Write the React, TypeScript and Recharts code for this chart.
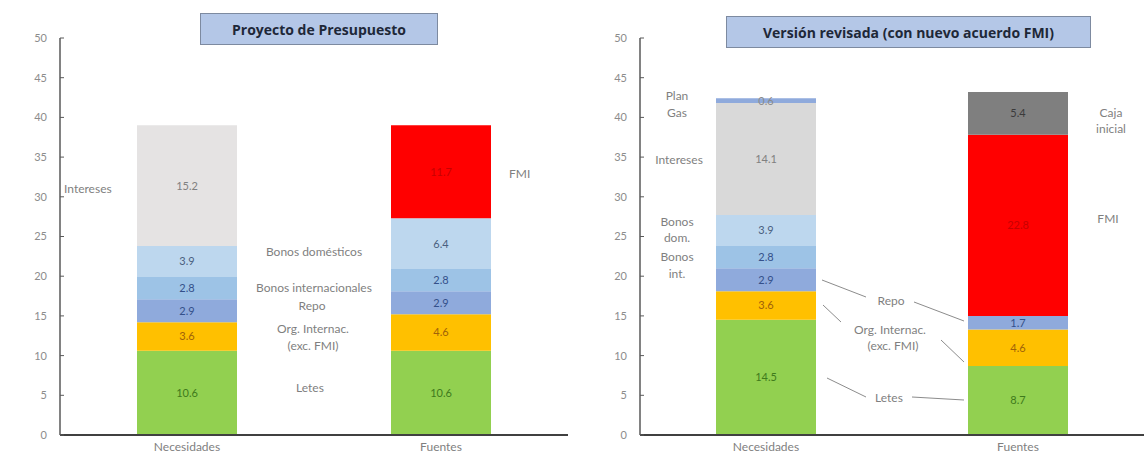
import { Bar, BarChart, LabelList, XAxis, YAxis } from 'recharts';

const categories = ['Necesidades', 'Fuentes'];
const yTicks = [0, 5, 10, 15, 20, 25, 30, 35, 40, 45, 50];

// Proyecto de Presupuesto (US$ bn)
const proyLetes = [10.6, 10.6];
const proyOrg = [3.6, 4.6];
const proyRepo = [2.9, 2.9];
const proyBonosInt = [2.8, 2.8];
const proyBonosDom = [3.9, 6.4];
const proyIntereses = [15.2, 0];
const proyFmi = [0, 11.7];
const proyTotals = ['38.9', '38.9'];

// Versión revisada (con nuevo acuerdo FMI)
const revLetes = [14.5, 8.7];
const revOrg = [3.6, 4.6];
const revRepo = [2.9, 1.7];
const revBonosInt = [2.8, 0];
const revBonosDom = [3.9, 0];
const revIntereses = [14.1, 0];
const revFmi = [0, 22.8];
const revPlanGas = [0.6, 0];
const revCaja = [0, 5.4];
const revTotals = ['42.4', '43.2'];

const FONT = 'Lato, "Open Sans", sans-serif';
const GRAY = '#7f7f7f';

type Series = { key: string; values: number[]; color: string; text: string };

const proySeries: Series[] = [
  { key: 'letes', values: proyLetes, color: '#92d050', text: '#3f7a1c' },
  { key: 'org', values: proyOrg, color: '#ffc000', text: '#a0620a' },
  { key: 'repo', values: proyRepo, color: '#8faadc', text: '#34508a' },
  { key: 'bonosInt', values: proyBonosInt, color: '#9dc3e6', text: '#34508a' },
  { key: 'bonosDom', values: proyBonosDom, color: '#bdd7ee', text: '#4a5f80' },
  { key: 'intereses', values: proyIntereses, color: '#e5e3e3', text: '#808080' },
  { key: 'fmi', values: proyFmi, color: '#ff0000', text: '#c80000' },
];

const revSeries: Series[] = [
  { key: 'letes', values: revLetes, color: '#92d050', text: '#3f7a1c' },
  { key: 'org', values: revOrg, color: '#ffc000', text: '#a0620a' },
  { key: 'repo', values: revRepo, color: '#8faadc', text: '#34508a' },
  { key: 'bonosInt', values: revBonosInt, color: '#9dc3e6', text: '#34508a' },
  { key: 'bonosDom', values: revBonosDom, color: '#bdd7ee', text: '#4a5f80' },
  { key: 'intereses', values: revIntereses, color: '#d9d9d9', text: '#808080' },
  { key: 'fmi', values: revFmi, color: '#ff0000', text: '#c80000' },
  { key: 'planGas', values: revPlanGas, color: '#8faadc', text: '#8a8a8a' },
  { key: 'caja', values: revCaja, color: '#7f7f7f', text: '#3a3a3a' },
];

function buildRows(series: Series[], totals: string[]) {
  return categories.map((name, i) => {
    const row: Record<string, string | number> = { name, total: 0, totalLabel: totals[i] };
    series.forEach((s) => {
      row[s.key] = s.values[i];
    });
    return row;
  });
}

function Panel({
  series,
  totals,
  width,
  axisWidth,
  padRight,
}: {
  series: Series[];
  totals: string[];
  width: number;
  axisWidth: number;
  padRight: number;
}) {
  const data = buildRows(series, totals);
  return (
    <BarChart
      width={width}
      height={456}
      data={data}
      margin={{ top: 38, right: padRight, left: 0, bottom: 0 }}
      barSize={100}
      style={{ overflow: 'visible' }}
    >
      <XAxis
        dataKey="name"
        height={21}
        axisLine={{ stroke: '#404040', strokeWidth: 2 }}
        tickLine={false}
        tickSize={0}
        tickMargin={7}
        tick={{ fill: GRAY, fontSize: 12, fontFamily: FONT }}
      />
      <YAxis
        width={axisWidth}
        domain={[0, 50]}
        ticks={yTicks}
        interval={0}
        axisLine={{ stroke: '#595959', strokeWidth: 1.5 }}
        tickLine={{ stroke: '#595959' }}
        tickSize={-4}
        tickMargin={17}
        tick={{ fill: '#8c8c8c', fontSize: 11, fontFamily: FONT }}
      />
      {series.map((s) => (
        <Bar key={s.key} dataKey={s.key} stackId="a" fill={s.color} isAnimationActive={false}>
          <LabelList
            dataKey={s.key}
            position="center"
            formatter={(v: number) => (v ? v.toFixed(1) : '')}
            style={{ fill: s.text, fontSize: 11, fontFamily: FONT }}
          />
        </Bar>
      ))}
      <Bar dataKey="total" stackId="a" fill="none" isAnimationActive={false}>
        <LabelList
          dataKey="totalLabel"
          position="top"
          offset={12}
          style={{ fill: '#808080', fontSize: 11, fontFamily: FONT }}
        />
      </Bar>
    </BarChart>
  );
}

type Note = { t: string; x: number; y: number; a?: 'start' | 'middle' | 'end' };

const notes: Note[] = [
  { t: 'Intereses', x: 64, y: 188, a: 'start' },
  { t: 'FMI', x: 509, y: 173, a: 'start' },
  { t: 'Bonos domésticos', x: 314, y: 251 },
  { t: 'Bonos internacionales', x: 314, y: 287 },
  { t: 'Repo', x: 312, y: 305 },
  { t: 'Org. Internac.', x: 313, y: 328 },
  { t: '(exc. FMI)', x: 313, y: 345 },
  { t: 'Letes', x: 310, y: 387 },
  { t: 'Plan', x: 677, y: 95 },
  { t: 'Gas', x: 677, y: 112 },
  { t: 'Intereses', x: 679, y: 159 },
  { t: 'Bonos', x: 677, y: 221 },
  { t: 'dom.', x: 677, y: 237 },
  { t: 'Bonos', x: 677, y: 256 },
  { t: 'int.', x: 677, y: 273 },
  { t: 'Caja', x: 1111, y: 112 },
  { t: 'inicial', x: 1111, y: 128 },
  { t: 'FMI', x: 1108, y: 218 },
  { t: 'Repo', x: 891, y: 300 },
  { t: 'Org. Internac.', x: 890, y: 329 },
  { t: '(exc. FMI)', x: 893, y: 345 },
  { t: 'Letes', x: 889, y: 397 },
];

const leaders = [
  [822, 280, 866, 297],
  [914, 302, 964, 321],
  [823, 305, 841, 322],
  [941, 340, 964, 362],
  [827, 378, 866, 397],
  [912, 397, 964, 400],
];

const titleStyle = {
  position: 'absolute' as const,
  background: '#b4c7e7',
  border: '1.5px solid #7d8aa0',
  boxSizing: 'border-box' as const,
  display: 'flex',
  alignItems: 'center',
  justifyContent: 'center',
  fontFamily: '"Open Sans", sans-serif',
  fontWeight: 700,
  fontSize: 14,
  color: '#1e2838',
};

export default function App() {
  return (
    <div style={{ position: 'absolute', left: 0, top: 0, width: 1144, height: 456, background: '#fff' }}>
      <div style={{ position: 'absolute', left: 0, top: 0 }}>
        <Panel series={proySeries} totals={proyTotals} width={572} axisWidth={60} padRight={4} />
      </div>
      <div style={{ position: 'absolute', left: 572, top: 0 }}>
        <Panel series={revSeries} totals={revTotals} width={572} axisWidth={68} padRight={0} />
      </div>
      <div style={{ ...titleStyle, left: 200, top: 13, width: 238, height: 32 }}>Proyecto de Presupuesto</div>
      <div style={{ ...titleStyle, left: 726, top: 16, width: 365, height: 32 }}>
        Versión revisada (con nuevo acuerdo FMI)
      </div>
      <svg
        width={1144}
        height={456}
        style={{ position: 'absolute', left: 0, top: 0, pointerEvents: 'none' }}
      >
        {leaders.map(([x1, y1, x2, y2], i) => (
          <line key={i} x1={x1} y1={y1} x2={x2} y2={y2} stroke="#8c8c8c" strokeWidth={1} />
        ))}
        {notes.map((n, i) => (
          <text
            key={i}
            x={n.x}
            y={n.y}
            textAnchor={n.a ?? 'middle'}
            dominantBaseline="central"
            fill={GRAY}
            fontSize={12}
            fontFamily={FONT}
          >
            {n.t}
          </text>
        ))}
      </svg>
    </div>
  );
}
